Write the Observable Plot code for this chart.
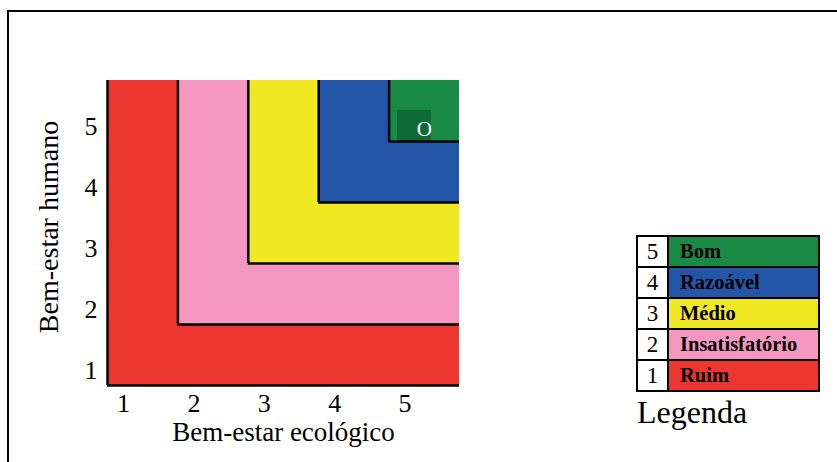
<!DOCTYPE html>
<html>
<head>
<meta charset="utf-8">
<script src="https://cdn.jsdelivr.net/npm/d3@7"></script>
<script src="https://cdn.jsdelivr.net/npm/@observablehq/plot@0.6"></script>
<style>
  body { margin: 0; background: #fff; }
  #wrap { position: relative; width: 837px; height: 462px; overflow: hidden; font-family: "Liberation Serif", "Times New Roman", serif; }
  #frame { position: absolute; left: 7px; top: 10px; right: -10px; bottom: -10px; border-top: 2.5px solid #000; border-left: 2.5px solid #000; pointer-events: none; }
  #chart { position: absolute; left: 0; top: 0; }
  #legend { position: absolute; left: 636px; top: 235px; border-collapse: collapse; font-family: "Liberation Serif", "Times New Roman", serif; }
  #legend td { border: 2px solid #000; height: 29px; padding: 0; font-family: "Liberation Serif", "Times New Roman", serif; line-height: 1; }
  #legend td.num { width: 29px; text-align: center; font-size: 23px; background: #fff; }
  #legend td.lab { width: 138px; padding-left: 11px; font-weight: bold; font-size: 20.5px; color: #000; }
  #legtitle { position: absolute; left: 637px; top: 395px; font-size: 32px; line-height: 1.1; }
</style>
</head>
<body>
<div id="wrap">
  <div id="chart"></div>
  <div id="frame"></div>
  <table id="legend"></table>
  <div id="legtitle">Legenda</div>
</div>
<script>
// Data
const levels = [1, 2, 3, 4, 5];
const levelNames = ["Ruim", "Insatisfatório", "Médio", "Razoável", "Bom"];
const levelColors = ["#ee3630", "#f497c0", "#efe822", "#2456a8", "#188a46"];
const scaleMax = 5;
const tickValues = [1, 2, 3, 4, 5];
const xTitle = "Bem-estar ecológico";
const yTitle = "Bem-estar humano";
const legendTitle = "Legenda";
// assessed result box (ecological x human)
const resultBox = [{x1: 4.12, x2: 4.6, y1: 4.0, y2: 4.51, label: "O", lx: 4.5, ly: 4.2}];

const regions = levels.map((l, i) => ({level: l, name: levelNames[i], color: levelColors[i], lo: l - 1, hi: scaleMax}));
const serif = "Liberation Serif, Times New Roman, serif";

const chart = Plot.plot({
  width: 837,
  height: 462,
  marginLeft: 107,
  marginTop: 80,
  marginRight: 378,
  marginBottom: 77,
  style: {fontFamily: serif, fontSize: "22px", color: "#000", background: "transparent"},
  x: {domain: [0, scaleMax], axis: null},
  y: {domain: [0, scaleMax], axis: null},
  marks: [
    Plot.rect(regions, {x1: "lo", x2: "hi", y1: "lo", y2: "hi", fill: "color"}),
    Plot.rect(resultBox, {x1: "x1", x2: "x2", y1: "y1", y2: "y2", fill: "#0b6a37"}),
    Plot.text(resultBox, {x: "lx", y: "ly", text: "label", fill: "#fff", fontSize: 21, fontFamily: serif}),
    Plot.ruleX(regions, {x: "lo", y1: "lo", y2: "hi", stroke: "#000", strokeWidth: 2.5}),
    Plot.ruleY(regions, {y: "lo", x1: "lo", x2: "hi", stroke: "#000", strokeWidth: 2.5}),
    // x tick labels
    Plot.text(tickValues, {x: d => d - 1, frameAnchor: "bottom", lineAnchor: "middle", textAnchor: "middle", dx: 16, dy: 18, text: d => String(d), fontSize: 26, fontFamily: serif, fill: "#000"}),
    // y tick labels
    Plot.text(tickValues, {y: d => d - 1, frameAnchor: "left", lineAnchor: "middle", textAnchor: "end", dx: -10, dy: -15, text: d => String(d), fontSize: 26, fontFamily: serif, fill: "#000"}),
    Plot.text([xTitle], {frameAnchor: "bottom", lineAnchor: "middle", textAnchor: "middle", dy: 47, fontSize: 27, fontFamily: serif, fill: "#000"}),
    Plot.text([yTitle], {frameAnchor: "left", lineAnchor: "middle", textAnchor: "middle", dx: -58, dy: -6, rotate: -90, fontSize: 28, fontFamily: serif, fill: "#000"})
  ]
});
document.getElementById("chart").appendChild(chart);

// Legend (top = highest level)
const table = document.getElementById("legend");
[...regions].reverse().forEach(r => {
  const tr = document.createElement("tr");
  const n = document.createElement("td");
  n.className = "num";
  n.textContent = r.level;
  const lab = document.createElement("td");
  lab.className = "lab";
  lab.style.background = r.color;
  lab.textContent = r.name;
  tr.appendChild(n);
  tr.appendChild(lab);
  table.appendChild(tr);
});
document.getElementById("legtitle").textContent = legendTitle;
</script>
</body>
</html>
